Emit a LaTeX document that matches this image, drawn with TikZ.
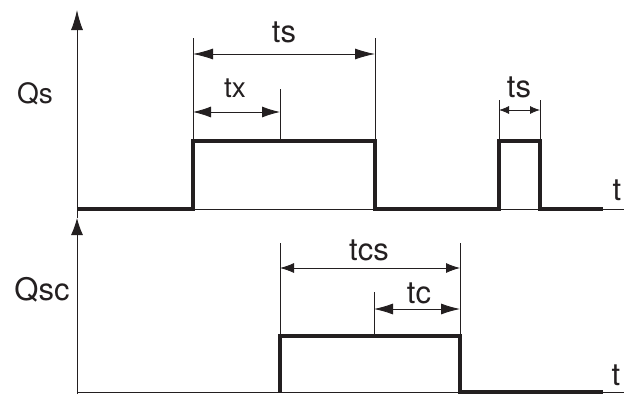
\documentclass[tikz,border=0pt]{standalone}
\usepackage{fontspec}
\setmainfont{TeX Gyre Heros}
\usetikzlibrary{arrows.meta}
\definecolor{inkBlack}{HTML}{231F20}

\begin{document}
\begin{tikzpicture}[x=1pt, y=-1pt,
   axis/.style={line width=0.9pt, draw=inkBlack},
   signal/.style={line width=3.4pt, draw=inkBlack, line join=miter},
   extline/.style={line width=0.8pt, draw=inkBlack},
   dim/.style 2 args={line width=0.8pt, draw=inkBlack,
                      {Latex[length=#1, width=#2]}-{Latex[length=#1, width=#2]}},
   lbl/.style={anchor=base, inner sep=0pt, text=inkBlack,
               font=\fontsize{31}{31}\selectfont},
   lblsm/.style={lbl, font=\fontsize{28}{28}\selectfont}]
\useasboundingbox (0,0) rectangle (624,394);

% points of both time charts (picture pixels, y downwards)
\foreach \n/\x/\y in {o1/77/209, y1/77/10, b1/77/218, e1/624/209, f1/603/209,
                      p1/193/141, p2/375/141, p3/499/141, p4/540/141, m1/280/141,
                      o2/77/392, y2/77/218, b2/77/394, e2/624/392, f2/603/392,
                      q1/280/336, q2/460/336, m2/374/336}
  \coordinate (\n) at (\x,\y);

% axes
\draw[axis, -{Latex[length=20pt, width=12pt]}] (b1) -- (y1);
\draw[axis] (o1) -- (e1);
\draw[axis, -{Latex[length=17pt, width=12pt]}] (b2) -- (y2);
\draw[axis] (o2) -- (e2);

% signals
\draw[signal] (o1) -- (p1 |- o1) -- (p1) -- (p2) -- (p2 |- o1)
  -- (p3 |- o1) -- (p3) -- (p4) -- (p4 |- o1) -- (f1);
\draw[signal] (q1 |- o2) -- (q1) -- (q2) -- (q2 |- o2) -- (f2);

% extension lines
\foreach \p/\t in {p1/38, p2/38, m1/89, p3/100, p4/100, q1/243, q2/243, m2/292}
  \draw[extline] (\p) -- (\p |- 0,\t);

% dimensions
\draw[dim={20pt}{11pt}] (p1 |- 0,54) -- (p2 |- 0,54);
\draw[dim={18pt}{11pt}] (p1 |- 0,112) -- (m1 |- 0,112);
\draw[dim={10pt}{8pt}] (p3 |- 0,110) -- (p4 |- 0,110);
\draw[dim={14pt}{10pt}] (q1 |- 0,268) -- (q2 |- 0,268);
\draw[dim={19pt}{11pt}] (m2 |- 0,309) -- (q2 |- 0,309);

% labels
\node[lblsm] (qs) at (35,103) {Qs};
\node[lbl] (qsc) at (42,300) {Qsc};
\node[lbl] (ts) at (284,42) {ts};
\node[lblsm] (tx) at (235,97) {tx};
\node[lbl] (tsb) at (519,97) {ts};
\node[lbl] (tcs) at (369,260) {tcs};
\node[lbl] (tc) at (419,303) {tc};
\node[lbl] (t1) at (617,200) {t};
\node[lbl] (t2) at (616,385) {t};
\end{tikzpicture}
\end{document}
